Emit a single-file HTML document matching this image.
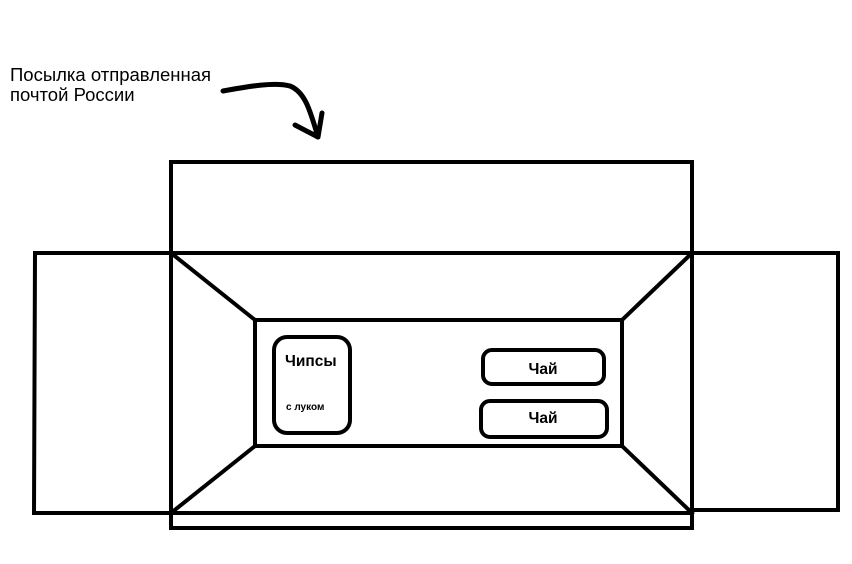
<!DOCTYPE html>
<html><head><meta charset="utf-8"><style>
html,body{margin:0;padding:0;background:#fff;width:852px;height:564px;overflow:hidden}
</style></head><body>
<svg width="852" height="564" viewBox="0 0 852 564" xmlns="http://www.w3.org/2000/svg">
<g stroke="#000" stroke-width="4" fill="none" stroke-linecap="square">
<text x="10" y="81" font-family="Liberation Sans, DejaVu Sans, sans-serif" font-size="18.5" fill="#000" stroke="none">Посылка отправленная</text>
<text x="10" y="101" font-family="Liberation Sans, DejaVu Sans, sans-serif" font-size="18.5" fill="#000" stroke="none">почтой России</text>
<path d="M223 91 C250 86 275 82 290 86 C305 92 310 110 318 137" stroke-width="5" stroke-linecap="round"/>
<path d="M295 125 L318 137 L322 113" stroke-width="5" stroke-linecap="round" stroke-linejoin="round"/>
<path d="M171 253 L171 162 L692 162 L692 253"/>
<line x1="35" y1="253" x2="838" y2="253"/>
<path d="M35 253 L34 513 L171 513"/>
<path d="M838 253 L838 510 L692 510"/>
<line x1="171" y1="253" x2="171" y2="528"/>
<line x1="692" y1="253" x2="692" y2="528"/>
<line x1="171" y1="513" x2="692" y2="513"/>
<line x1="171" y1="528" x2="692" y2="528"/>
<rect x="255" y="320" width="367" height="126"/>
<line x1="171" y1="253" x2="255" y2="320"/>
<line x1="692" y1="253" x2="622" y2="320"/>
<line x1="171" y1="513" x2="255" y2="446"/>
<line x1="692" y1="513" x2="622" y2="446"/>
<rect x="274" y="337" width="76" height="96" rx="13"/>
<rect x="483" y="350" width="121" height="34" rx="9"/>
<rect x="481" y="401" width="126" height="36" rx="9"/>
</g>
<g font-family="Liberation Sans, DejaVu Sans, sans-serif" font-weight="bold" fill="#000">
<text x="285" y="366" font-size="15.5">Чипсы</text>
<text x="286" y="410" font-size="10">с луком</text>
<text x="543" y="374" font-size="15.5" text-anchor="middle">Чай</text>
<text x="543" y="423" font-size="15.5" text-anchor="middle">Чай</text>
</g>
</svg>
</body></html>
